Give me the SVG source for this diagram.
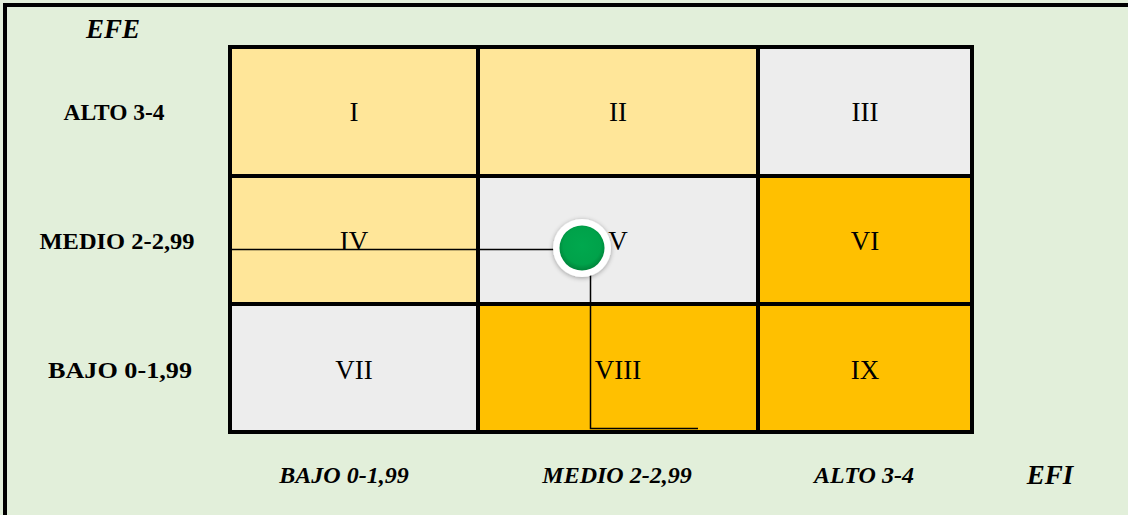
<svg xmlns="http://www.w3.org/2000/svg" width="1128" height="515" viewBox="0 0 1128 515">
  <style>
    .cell { stroke: #000; stroke-width: 4; }
    .hi { fill: #FFE699; }
    .gray { fill: #EDEDED; }
    .gold { fill: #FFC000; }
    .roman { font-family: "Liberation Serif", "Times New Roman", serif; font-size: 27px; fill: #000; text-anchor: middle; }
    .row { font-family: "Liberation Serif", "Times New Roman", serif; font-size: 24px; font-weight: bold; fill: #000; text-anchor: middle; }
    .axis { font-family: "Liberation Serif", "Times New Roman", serif; font-size: 24px; font-weight: bold; font-style: italic; fill: #000; text-anchor: middle; }
    .title { font-size: 27px; }
    .conn { stroke: #000; stroke-width: 1.5; fill: none; }
  </style>
  <defs>
    <radialGradient id="dotFill" cx="50%" cy="45%" r="55%">
      <stop offset="0" stop-color="#00A84E"/>
      <stop offset="0.75" stop-color="#00A24A"/>
      <stop offset="1" stop-color="#00833A"/>
    </radialGradient>
    <filter id="softShadow" x="-40%" y="-40%" width="180%" height="180%">
      <feGaussianBlur in="SourceAlpha" stdDeviation="2.5"/>
      <feOffset dx="0" dy="1" result="b"/>
      <feComponentTransfer><feFuncA type="linear" slope="0.35"/></feComponentTransfer>
      <feMerge><feMergeNode/><feMergeNode in="SourceGraphic"/></feMerge>
    </filter>
  </defs>

  <!-- background panel with frame on top and left -->
  <rect x="0" y="0" width="1128" height="515" fill="#E2EFDA"/>
  <rect x="5" y="5" width="1140" height="530" fill="none" stroke="#000" stroke-width="4"/>

  <!-- axis titles -->
  <text class="axis title" x="113" y="38">EFE</text>
  <text class="axis title" x="1050" y="484">EFI</text>

  <!-- row labels -->
  <text class="row" x="114" y="120" textLength="101" lengthAdjust="spacingAndGlyphs">ALTO 3-4</text>
  <text class="row" x="117" y="249" textLength="155" lengthAdjust="spacingAndGlyphs">MEDIO 2-2,99</text>
  <text class="row" x="120" y="378" textLength="144" lengthAdjust="spacingAndGlyphs">BAJO 0-1,99</text>

  <!-- column labels -->
  <text class="axis" x="344" y="483">BAJO 0-1,99</text>
  <text class="axis" x="617" y="483">MEDIO 2-2,99</text>
  <text class="axis" x="864" y="483">ALTO 3-4</text>

  <!-- matrix cells -->
  <g id="cell-I"><rect class="cell hi" x="230" y="47" width="248" height="129"/><text class="roman" x="354" y="121">I</text></g>
  <g id="cell-II"><rect class="cell hi" x="478" y="47" width="280" height="129"/><text class="roman" x="618" y="121">II</text></g>
  <g id="cell-III"><rect class="cell gray" x="758" y="47" width="214" height="129"/><text class="roman" x="865" y="121">III</text></g>
  <g id="cell-IV"><rect class="cell hi" x="230" y="176" width="248" height="128"/><text class="roman" x="354" y="250">IV</text></g>
  <g id="cell-V"><rect class="cell gray" x="478" y="176" width="280" height="128"/><text class="roman" x="618" y="250">V</text></g>
  <g id="cell-VI"><rect class="cell gold" x="758" y="176" width="214" height="128"/><text class="roman" x="865" y="250">VI</text></g>
  <g id="cell-VII"><rect class="cell gray" x="230" y="304" width="248" height="128"/><text class="roman" x="354" y="379">VII</text></g>
  <g id="cell-VIII"><rect class="cell gold" x="478" y="304" width="280" height="128"/><text class="roman" x="618" y="379">VIII</text></g>
  <g id="cell-IX"><rect class="cell gold" x="758" y="304" width="214" height="128"/><text class="roman" x="865" y="379">IX</text></g>

  <!-- guide lines locating the position -->
  <g id="connectors">
    <line class="conn" x1="231" y1="249.5" x2="556" y2="249.5"/>
    <polyline class="conn" points="590.5,272 590.5,428.5 698,428.5"/>
  </g>

  <!-- position marker -->
  <g id="marker">
    <circle cx="582" cy="248" r="29" fill="#FFFFFF" filter="url(#softShadow)"/>
    <circle cx="582" cy="248" r="22.5" fill="url(#dotFill)"/>
  </g>
</svg>
